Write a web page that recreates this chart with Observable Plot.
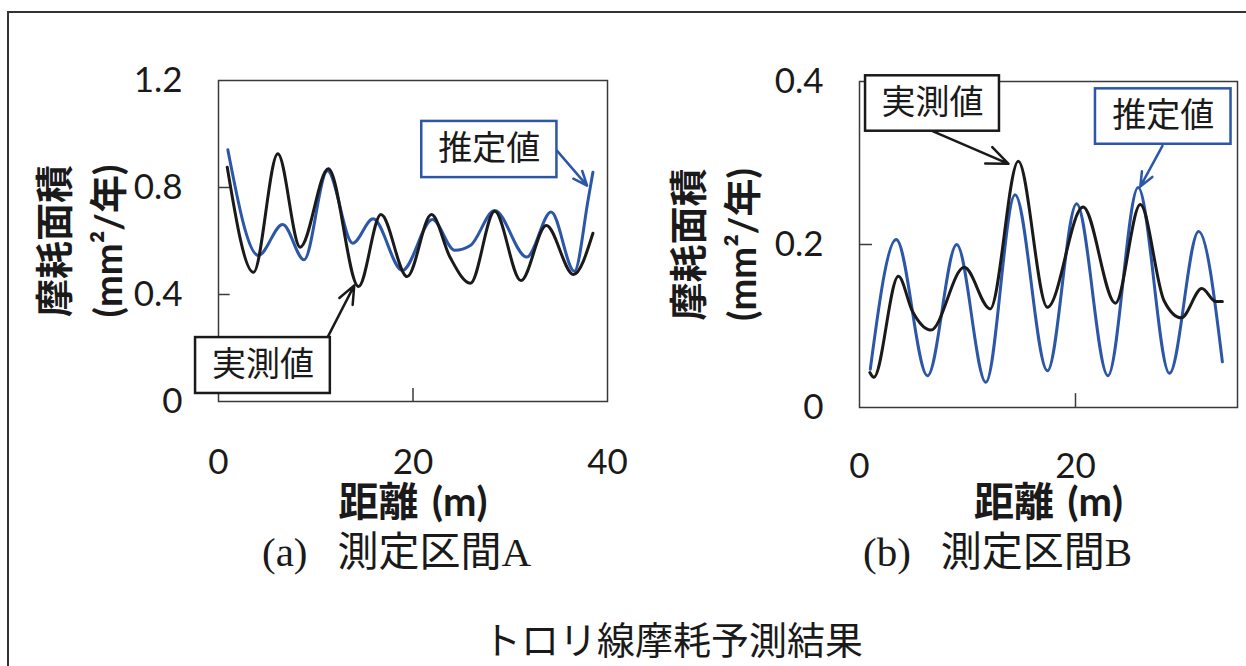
<!DOCTYPE html>
<html>
<head>
<meta charset="utf-8">
<script src="https://cdn.jsdelivr.net/npm/d3@7"></script>
<script src="https://cdn.jsdelivr.net/npm/@observablehq/plot@0.6"></script>
<style>
  html, body { margin: 0; padding: 0; background: #fff; }
  body { width: 1246px; height: 666px; position: relative; overflow: hidden; font-family: "Noto Sans CJK JP", sans-serif; color: #1a1a1a; }
  #outer { position: absolute; left: 7px; top: 11px; width: 1260px; height: 700px; border-left: 2px solid #333; border-top: 2px solid #333; }
  .panel { position: absolute; top: 0; }
  .caption { position: absolute; top: 526px; font-size: 41px; line-height: 44px; white-space: nowrap; }
  .serif { font-family: "Liberation Serif", "DejaVu Serif", serif; }
  .sans { font-family: "Noto Sans CJK JP", sans-serif; margin-left: 30px; }
  #title { position: absolute; left: 673px; top: 637px; transform: translate(-50%, -50%); font-size: 38px; white-space: nowrap; }
</style>
</head>
<body>
<div id="outer"></div>
<div id="pa" class="panel" style="left:0px"></div>
<div id="pb" class="panel" style="left:620px"></div>
<div class="caption" style="left:262px"><span class="serif">(a)</span><span class="sans">測定区間</span><span class="serif">A</span></div>
<div class="caption" style="left:863px"><span class="serif">(b)</span><span class="sans">測定区間</span><span class="serif">B</span></div>
<div id="title">トロリ線摩耗予測結果</div>
<script>
// ---- Data: panel (a) 測定区間A ----
const distA_meas = [0.9, 3.6, 6.1, 8.4, 11.3, 14.4, 16.7, 19.4, 21.9, 23.8, 25.9, 28.4, 31.1, 33.7, 36.5, 38.5];
const wearA_meas = [0.876, 0.483, 0.926, 0.577, 0.870, 0.430, 0.699, 0.467, 0.699, 0.540, 0.442, 0.711, 0.452, 0.658, 0.475, 0.629];
const distA_est = [0.96, 4.1, 6.6, 8.8, 11.2, 13.8, 15.9, 18.9, 22.0, 24.3, 25.9, 28.4, 31.7, 34.2, 36.6, 38.0, 38.5];
const wearA_est = [0.941, 0.546, 0.662, 0.530, 0.863, 0.592, 0.683, 0.490, 0.680, 0.565, 0.583, 0.714, 0.540, 0.708, 0.487, 0.752, 0.857];
const xTicksA = [0, 20, 40];
const yTicksA = [0, 0.4, 0.8, 1.2];

// ---- Data: panel (b) 測定区間B ----
const distB_meas = [0.96, 1.33, 3.6, 4.9, 6.6, 9.7, 12.1, 14.7, 17.4, 20.7, 23.7, 26.0, 28.2, 29.8, 31.7, 33.0, 33.6];
const wearB_meas = [0.043, 0.037, 0.161, 0.118, 0.095, 0.172, 0.121, 0.302, 0.123, 0.246, 0.128, 0.249, 0.131, 0.110, 0.146, 0.130, 0.130];
const distB_est = [1.0, 3.4, 6.3, 9.0, 11.7, 14.4, 17.4, 20.1, 23.0, 25.8, 28.7, 31.4, 33.6];
const wearB_est = [0.047, 0.206, 0.039, 0.200, 0.031, 0.261, 0.045, 0.250, 0.039, 0.270, 0.042, 0.216, 0.056];
const xTicksB = [0, 20];
const yTicksB = [0, 0.2, 0.4];

// labels
const seriesNames = ["実測値", "推定値"];
const yLabel = "摩耗面積\n(mm²/年)";
const xLabel = "距離\u2004(m)";

// annotation anchors (data coordinates)
const annA = [
  {name: "推定値", x1: 20.9, x2: 34.8, y1: 0.837, y2: 1.047, ax1: 34.8, ay1: 0.938, ax2: 37.9, ay2: 0.807},
  {name: "実測値", x1: -2.36, x2: 11.5, y1: 0.030, y2: 0.239, ax1: 11.2, ay1: 0.239, ax2: 13.96, ay2: 0.434}
];
const annB = [
  {name: "実測値", x1: 0.56, x2: 12.96, y1: 0.339, y2: 0.407, ax1: 6.76, ay1: 0.339, ax2: 13.8, ay2: 0.299},
  {name: "推定値", x1: 21.85, x2: 34.4, y1: 0.323, y2: 0.391, ax1: 28.05, ay1: 0.321, ax2: 26.0, ay2: 0.271}
];

const BLUE = "#2c56a8";
const BLACK = "#1a1a1a";
const colorOf = n => n === "推定値" ? BLUE : BLACK;
const fmt = d => d === 0 ? "0" : String(d);

function rows(xs, ys) { return xs.map((x, i) => ({x, y: ys[i]})); }

function panel({width, ml, mr, mt, mb, xDomain, yDomain, xTicks, yTicks, meas, est, ann, tickLenX, tickLenY, xPad, yLabDx, xLabDy}) {
  return Plot.plot({
    width, height: 600,
    marginLeft: ml, marginRight: mr, marginTop: mt, marginBottom: mb,
    x: {domain: xDomain},
    y: {domain: yDomain},
    style: {fontFamily: "Lato, 'Noto Sans CJK JP', sans-serif", background: "transparent", color: BLACK, overflow: "visible"},
    marks: [
      Plot.frame({stroke: "#3a3a3a", strokeWidth: 1.5}),
      Plot.ruleY(yTicks.slice(1, -1), {x1: xDomain[0], x2: xDomain[0] + tickLenY, stroke: "#3a3a3a", strokeWidth: 1.5}),
      Plot.ruleX(xTicks.slice(1).filter(t => t < xDomain[1]), {y1: 0, y2: tickLenX, stroke: "#3a3a3a", strokeWidth: 1.5}),
      Plot.axisY({ticks: yTicks, tickSize: 0, tickPadding: 36, tickFormat: fmt, fontSize: 35, label: null}),
      Plot.axisX({ticks: xTicks, tickSize: 0, tickPadding: xPad, tickFormat: fmt, fontSize: 35, label: null}),
      Plot.line(est, {x: "x", y: "y", stroke: BLUE, strokeWidth: 3, curve: "monotone-x"}),
      Plot.line(meas, {x: "x", y: "y", stroke: BLACK, strokeWidth: 3, curve: "monotone-x"}),
      Plot.arrow(ann, {x1: "ax1", y1: "ay1", x2: "ax2", y2: "ay2", stroke: d => colorOf(d.name), strokeWidth: 2.5, headLength: 14, headAngle: 45}),
      Plot.rect(ann, {x1: "x1", x2: "x2", y1: "y1", y2: "y2", fill: "white", stroke: d => colorOf(d.name), strokeWidth: 2.5}),
      Plot.text(ann, {x: d => (d.x1 + d.x2) / 2, y: d => (d.y1 + d.y2) / 2, text: "name", fontSize: 34, fill: BLACK, fontFamily: "'Noto Sans CJK JP', sans-serif"}),
      Plot.text([yLabel], {frameAnchor: "left", rotate: -90, dx: yLabDx, text: d => d, textAnchor: "middle", lineAnchor: "middle", fontSize: 38, fontWeight: "bold", lineHeight: 1.42, fill: BLACK}),
      Plot.text([xLabel], {frameAnchor: "bottom", dy: xLabDy, text: d => d, textAnchor: "middle", lineAnchor: "middle", fontSize: 40, fontWeight: "bold", fill: BLACK})
    ]
  });
}

document.getElementById("pa").append(panel({
  width: 620, ml: 218, mr: 13, mt: 80, mb: 199,
  xDomain: [0, 40], yDomain: [0, 1.2], xTicks: xTicksA, yTicks: yTicksA,
  meas: rows(distA_meas, wearA_meas), est: rows(distA_est, wearA_est), ann: annA,
  tickLenX: 0.049, tickLenY: 1.2, xPad: 48, yLabDx: -141, xLabDy: 102
}));

document.getElementById("pb").append(panel({
  width: 626, ml: 239, mr: 9, mt: 81, mb: 193,
  xDomain: [0, 35], yDomain: [0, 0.4], xTicks: xTicksB, yTicks: yTicksB,
  meas: rows(distB_meas, wearB_meas), est: rows(distB_est, wearB_est), ann: annB,
  tickLenX: 0.017, tickLenY: 1.2, xPad: 46, yLabDx: -148, xLabDy: 96
}));
</script>
</body>
</html>
